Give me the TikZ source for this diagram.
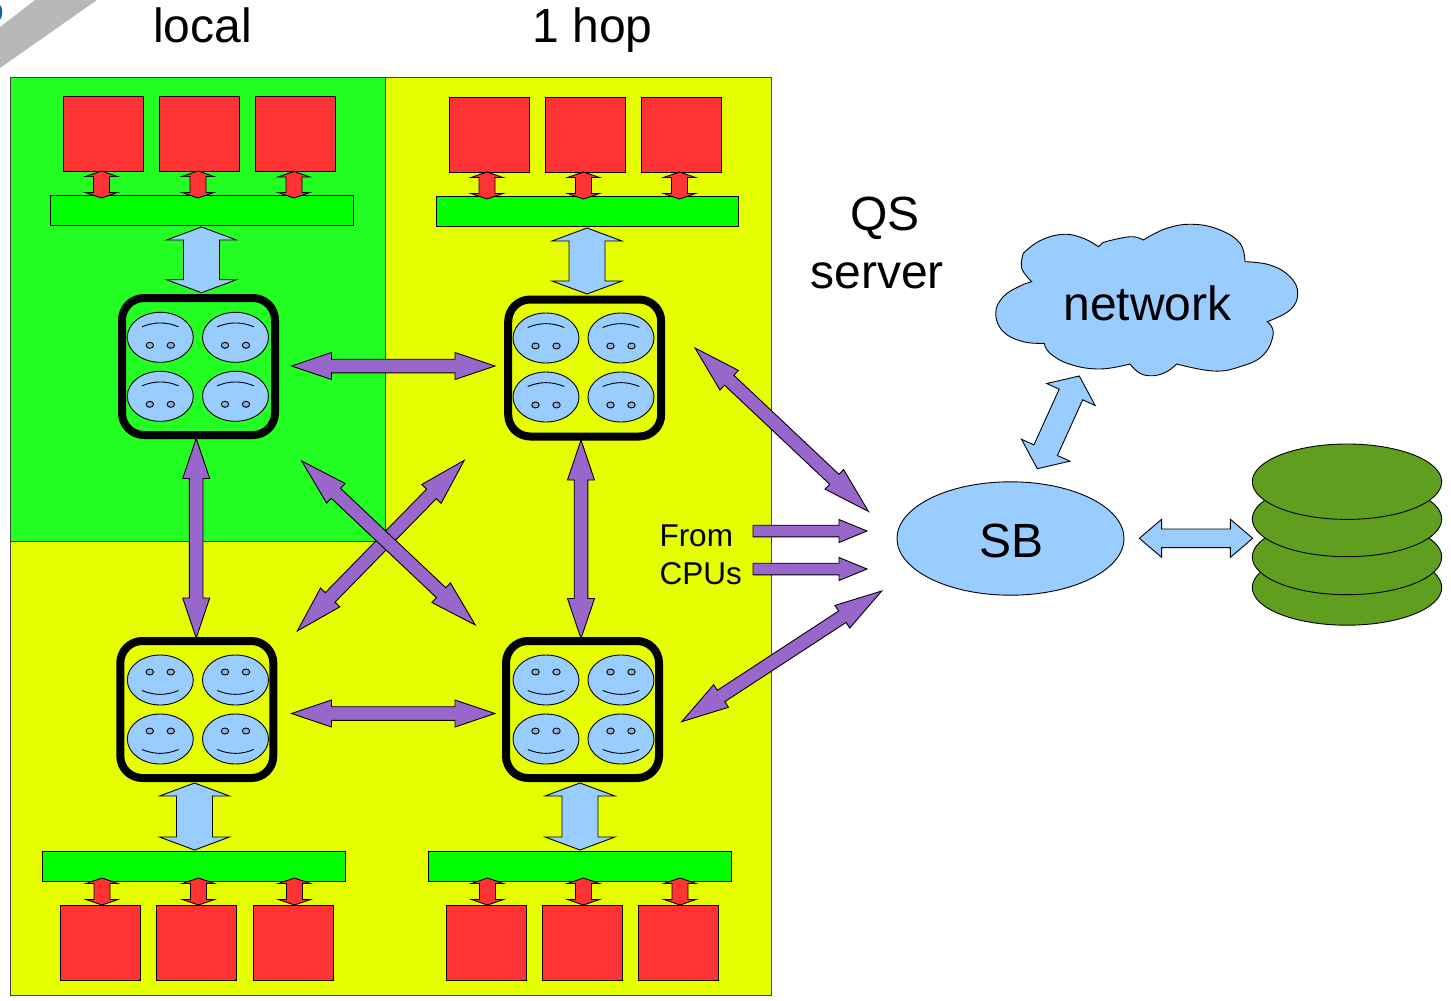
\documentclass[tikz,border=0pt]{standalone}
\usepackage{fontspec}
\setmainfont{Liberation Sans}
\usetikzlibrary{calc}
\definecolor{cgreen}{HTML}{23FF23}
\definecolor{cyellow}{HTML}{E6FF00}
\definecolor{cred}{HTML}{FF3333}
\definecolor{cblue}{HTML}{99CCFF}
\definecolor{cpurple}{HTML}{9966CC}
\definecolor{cbar}{HTML}{00FF00}
\definecolor{cdisk}{HTML}{5F9E1F}
\definecolor{ceye}{HTML}{8DB2DA}
\definecolor{cgray}{HTML}{B8B8B8}
\definecolor{cspot}{HTML}{1060B0}
\tikzset{
  x=1pt,y=-1pt,
  every node/.style={inner sep=0pt,outer sep=0pt},
  thinline/.style={draw=black,line width=0.9pt,line join=miter},
  framebox/.style={draw=black!75,line width=0.9pt},
  redbox/.style={thinline,fill=cred,minimum width=80pt,minimum height=75pt},
  barbox/.style={thinline,fill=cbar,minimum width=302.5pt,minimum height=30pt},
  cpubox/.style={draw=black,line width=8pt,rounded corners=22pt,minimum width=153pt,minimum height=137pt},
  redarrow/.style={thinline,fill=cred},
  bluearrow/.style={thinline,fill=cblue},
  purplearrow/.style={thinline,fill=cpurple},
  biglabel/.style={anchor=base west,font=\fontsize{48}{51}\selectfont},
  smalllabel/.style={anchor=base west,font=\fontsize{31.5}{34}\selectfont},
}
% double block arrow: end a, end b, shaft half width, head half width, head length, style
\newcommand\dbl[6]{%
  \path[#6] (#1)
    -- ($(#1)!#5pt!(#2)!#4pt!90:(#2)$)
    -- ($(#1)!#5pt!(#2)!#3pt!90:(#2)$)
    -- ($(#2)!#5pt!(#1)!#3pt!-90:(#1)$)
    -- ($(#2)!#5pt!(#1)!#4pt!-90:(#1)$)
    -- (#2)
    -- ($(#2)!#5pt!(#1)!#4pt!90:(#1)$)
    -- ($(#2)!#5pt!(#1)!#3pt!90:(#1)$)
    -- ($(#1)!#5pt!(#2)!#3pt!-90:(#2)$)
    -- ($(#1)!#5pt!(#2)!#4pt!-90:(#2)$)
    -- cycle;}
% single block arrow: tail a, tip b
\newcommand\sgl[6]{%
  \path[#6] ($(#1)!#3pt!90:(#2)$)
    -- ($(#2)!#5pt!(#1)!#3pt!-90:(#1)$)
    -- ($(#2)!#5pt!(#1)!#4pt!-90:(#1)$)
    -- (#2)
    -- ($(#2)!#5pt!(#1)!#4pt!90:(#1)$)
    -- ($(#2)!#5pt!(#1)!#3pt!90:(#1)$)
    -- ($(#1)!#3pt!-90:(#2)$)
    -- cycle;}
% one face: centre, vertical flip (+1 smiling, -1 upside down)
\newcommand\face[3]{%
  \begin{scope}[shift={(#1,#2)},yscale=#3]
    \path[thinline,fill=cblue] (0,0) ellipse [x radius=33pt,y radius=25pt];
    \path[thinline,fill=ceye] (-10.5,-8) ellipse [x radius=3.7pt,y radius=3pt];
    \path[thinline,fill=ceye] (10.5,-8) ellipse [x radius=3.7pt,y radius=3pt];
    \path[thinline,line cap=round] (-18,10.6) .. controls (-6,15.6) and (6,15.6) .. (18,10.6);
  \end{scope}}
\newcommand\facegroup[5]{\face{#1}{#3}{#5}\face{#2}{#3}{#5}\face{#1}{#4}{#5}\face{#2}{#4}{#5}}
\begin{document}
\begin{tikzpicture}
\useasboundingbox (0,0) rectangle (1451,1001);
\clip (0,0) rectangle (1451,1001);
% corner remnants
\fill[cgray] (35,0) -- (97,0) -- (0,68) -- (0,27) -- cycle;
\fill[cspot] (0,5) .. controls (3,8) and (3,16) .. (0,20) -- cycle;
% backgrounds
\node[framebox,fill=cyellow,anchor=north west,minimum width=760.3pt,minimum height=918pt] (field) at (10.7,77) {};
\node[framebox,fill=cgreen,anchor=north west,minimum width=374.3pt,minimum height=464pt] (localzone) at (10.7,77) {};
% labels
\node[biglabel] (llocal) at (153,42) {local};
\node[biglabel] (lhop) at (532.5,42) {1 hop};
\node[biglabel] (lqs) at (850.5,230.5) {QS};
\node[biglabel] (lserver) at (810.5,288.5) {server};
\node[smalllabel] (lfrom) at (659.5,546) {From};
\node[smalllabel] (lcpus) at (659.5,584) {CPUs};
% memory and buses
\node[redbox] (m11) at (103,133.5) {};
\node[redbox] (m12) at (199.5,133.5) {};
\node[redbox] (m13) at (295.7,134) {};
\node[redbox] (m21) at (489,134.5) {};
\node[redbox] (m22) at (585,134.5) {};
\node[redbox] (m23) at (681,134.5) {};
\node[redbox] (m31) at (100.5,942.5) {};
\node[redbox] (m32) at (196.5,942.5) {};
\node[redbox] (m33) at (293,942.5) {};
\node[redbox] (m41) at (486,942.5) {};
\node[redbox] (m42) at (582,942.5) {};
\node[redbox] (m43) at (678,942.5) {};
\node[barbox] (b1) at (202,210.5) {};
\node[barbox] (b2) at (587.5,211) {};
\node[barbox] (b3) at (194,866) {};
\node[barbox] (b4) at (579.7,866) {};
% red arrows
\foreach \n/\xx/\ya/\yb in {a/101.5/171/198,b/198/171/198,c/294/171.5/198,d/487/172/199,e/583.5/172/199,f/679.5/172/199,g/102/878/905,h/198.5/878/905,i/294.5/878/905,j/487.5/878/905,k/583.5/878/905,l/680/878/905}{
  \coordinate (r\n1) at (\xx,\ya);
  \coordinate (r\n2) at (\xx,\yb);
  \dbl{r\n1}{r\n2}{8}{16}{5.5}{redarrow}
}
% CPU groups
\node[cpubox] (c1) at (198.5,366.5) {};
\node[cpubox] (c2) at (584.7,368) {};
\node[cpubox] (c3) at (196.8,709.5) {};
\node[cpubox] (c4) at (582.5,709.5) {};
\facegroup{160.3}{235.5}{337.3}{396.3}{-1}
\facegroup{546}{621}{338}{397}{-1}
\facegroup{160.3}{235.5}{680}{739}{1}
\facegroup{546}{621}{680}{739}{1}
% blue arrows bus to CPU
\coordinate (u1a) at (201.5,227); \coordinate (u1b) at (201.5,292.7);
\coordinate (u2a) at (587,228); \coordinate (u2b) at (587,294);
\coordinate (u3a) at (194.5,783); \coordinate (u3b) at (194.5,850);
\coordinate (u4a) at (580,783); \coordinate (u4b) at (580,850);
\dbl{u1a}{u1b}{18}{35}{13}{bluearrow}
\dbl{u2a}{u2b}{18}{35}{13}{bluearrow}
\dbl{u3a}{u3b}{18}{35}{13}{bluearrow}
\dbl{u4a}{u4b}{18}{35}{13}{bluearrow}
% purple arrows
\coordinate (p1a) at (291.5,366); \coordinate (p1b) at (495,366);
\coordinate (p2a) at (291.5,713.5); \coordinate (p2b) at (495,713.5);
\coordinate (p3a) at (196.2,438.5); \coordinate (p3b) at (196.2,638);
\coordinate (p4a) at (581,440); \coordinate (p4b) at (581,638.5);
\coordinate (p5a) at (301.7,461); \coordinate (p5b) at (475.3,625);
\coordinate (p6a) at (464.3,460.3); \coordinate (p6b) at (297.3,631);
\coordinate (p7a) at (695,348); \coordinate (p7b) at (868.5,511.5);
\coordinate (p8a) at (881.7,591); \coordinate (p8b) at (681.7,721.7);
\foreach \n in {1,2,3,4}{\dbl{p\n a}{p\n b}{6.8}{13.5}{40}{purplearrow}}
\foreach \n in {6,5,7,8}{\dbl{p\n a}{p\n b}{6.8}{13.5}{47}{purplearrow}}
\coordinate (s1a) at (753,531); \coordinate (s1b) at (867,531);
\coordinate (s2a) at (753,569); \coordinate (s2b) at (867,569);
\sgl{s1a}{s1b}{5.8}{11.5}{28}{purplearrow}
\sgl{s2a}{s2b}{5.8}{11.5}{28}{purplearrow}
% cloud
\path[thinline,fill=cblue]
  plot[smooth,tension=.7] coordinates {(1023.3,253.3)(1040,240.7)(1063.3,234.3)(1083.3,238.3)(1098.3,246.7)}
  -- plot[smooth,tension=.7] coordinates {(1103.3,242.3)(1130,236.7)(1143.3,240)}
  -- plot[smooth,tension=.7] coordinates {(1143.3,240)(1166.7,228.3)(1193.3,224.3)(1220,230)(1240,243.3)(1245,261.7)}
  -- plot[smooth,tension=.7] coordinates {(1245,261.7)(1270,265)(1290,276.7)(1297.7,293.3)(1290,310)(1267.3,321.7)}
  -- plot[smooth,tension=.7] coordinates {(1267.3,321.7)(1273.3,333.3)(1263.3,355)(1240,366.7)(1213.3,371)(1176.7,364)}
  -- plot[smooth,tension=.7] coordinates {(1176.7,364)(1166.7,371.7)(1153.3,375.7)(1140,373.3)(1130,364)}
  -- plot[smooth,tension=.7] coordinates {(1130,364)(1100,369)(1070,364.3)(1050,353.3)(1044.3,343.3)}
  -- plot[smooth,tension=.7] coordinates {(1044.3,343.3)(1023.3,341.7)(1003.3,331.7)(995.7,313.3)(1003.3,296.7)(1020,286)(1031.7,281.7)}
  -- plot[smooth,tension=.7] coordinates {(1031.7,281.7)(1021.7,268.3)(1023.3,253.3)}
  -- cycle;
\node[biglabel] (lnet) at (1063.5,320.5) {network};
% SB
\path[thinline,fill=cblue] (1010.5,538.5) ellipse [x radius=113.5pt,y radius=56.7pt];
\node[biglabel] (lsb) at (979.5,557.5) {SB};
% disks
\path[thinline,fill=cdisk] (1347,587.5) ellipse [x radius=94.7pt,y radius=37.7pt];
\path[thinline,fill=cdisk] (1347,557) ellipse [x radius=94.7pt,y radius=37.7pt];
\path[thinline,fill=cdisk] (1347,519) ellipse [x radius=94.7pt,y radius=37.7pt];
\path[thinline,fill=cdisk] (1347,481.7) ellipse [x radius=94.7pt,y radius=37.7pt];
% blue arrows on the right
\coordinate (n1) at (1079.3,376); \coordinate (n2) at (1037.3,468.7);
\coordinate (d1) at (1139.3,538.3); \coordinate (d2) at (1252.7,538.3);
\dbl{n1}{n2}{12.9}{26.6}{20.3}{bluearrow}
\dbl{d1}{d2}{9.3}{19}{22.3}{bluearrow}
\end{tikzpicture}
\end{document}
